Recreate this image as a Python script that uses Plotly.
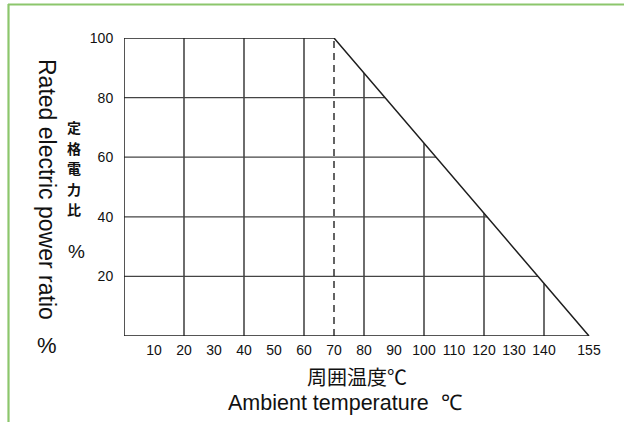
import numpy as np
import plotly.graph_objects as go

# ---- data ----
temps = [0, 70, 155]          # ambient temperature (°C) of derating curve vertices
power = [100, 100, 0]         # rated electric power ratio (%)
knee_temp = 70                # dashed marker
grid_temps = [20, 40, 60, 80, 100, 120, 140]
grid_levels = [20, 40, 60, 80]
x_tick_vals = [10, 20, 30, 40, 50, 60, 70, 80, 90, 100, 110, 120, 130, 140, 155]
x_tick_text = [str(v) for v in x_tick_vals]
y_tick_vals = [20, 40, 60, 80, 100]

W, H = 624, 422
L, R, T, B = 124, 20, 38, 86
PW, PH = W - L - R, H - T - B


def px(x):
    return (x - L) / PW


def py(y):
    return (H - B - y) / PH


slope_t = temps[1:]
slope_p = power[1:]

fig = go.Figure()

# vertical grid lines up to the derating curve
vx, vy = [], []
for t in grid_temps:
    top = float(np.interp(t, temps, power))
    vx += [t, t, None]
    vy += [0, top, None]
fig.add_trace(go.Scatter(x=vx, y=vy, mode="lines",
                         line=dict(color="#2e2e2e", width=1.4),
                         hoverinfo="skip", showlegend=False))

# horizontal grid lines up to the derating curve
hx, hy = [], []
for lv in grid_levels:
    right = float(np.interp(lv, slope_p[::-1], slope_t[::-1]))
    hx += [temps[0], right, None]
    hy += [lv, lv, None]
fig.add_trace(go.Scatter(x=hx, y=hy, mode="lines",
                         line=dict(color="#444444", width=1.3),
                         hoverinfo="skip", showlegend=False))

# dashed knee line
fig.add_trace(go.Scatter(x=[knee_temp, knee_temp], y=[0, float(np.interp(knee_temp, temps, power))],
                         mode="lines", line=dict(color="#222222", width=1.4, dash="7px,5px"),
                         hoverinfo="skip", showlegend=False))

# left axis and bottom axis lines
fig.add_trace(go.Scatter(x=[temps[0], temps[0], temps[-1]], y=[power[0], 0, 0], mode="lines",
                         line=dict(color="#1e1e1e", width=1.5),
                         hoverinfo="skip", showlegend=False))

# derating curve
fig.add_trace(go.Scatter(x=temps, y=power, mode="lines",
                         line=dict(color="#1e1e1e", width=1.5),
                         hoverinfo="skip", showlegend=False))

fig.update_xaxes(range=[0, PW / 3.0], tickvals=x_tick_vals, ticktext=x_tick_text,
                 showgrid=False, zeroline=False, showline=False,
                 ticks="outside", ticklen=1, tickcolor="rgba(0,0,0,0)",
                 tickfont=dict(family="Liberation Sans, Arial, sans-serif", size=14, color="#111111"))
fig.update_yaxes(range=[0, 100], tickvals=y_tick_vals,
                 showgrid=False, zeroline=False, showline=False,
                 ticks="outside", ticklen=7, tickcolor="rgba(0,0,0,0)",
                 tickfont=dict(family="Liberation Sans, Arial, sans-serif", size=14, color="#111111"))

en = "Liberation Sans, Arial, sans-serif"
jp = dict(family="Noto Sans CJK JP", size=14, color="#111111")
ann = []
for ch, yy in zip("定格電力比", [127, 147.5, 168, 188.5, 209]):
    ann.append(dict(text="<b>" + ch + "</b>", x=px(74), y=py(yy), font=jp))
ann += [
    dict(text="%", x=px(76), y=py(251), font=dict(family=en, size=19, color="#111111")),
    dict(text="Rated electric power ratio", x=px(47), y=py(189), textangle=90,
         font=dict(family=en, size=23, color="#111111")),
    dict(text="%", x=px(47), y=py(345), font=dict(family=en, size=22, color="#111111")),
    dict(text="周囲温度℃", x=px(357), y=py(376),
         font=dict(family="Noto Sans CJK JP", size=20, color="#111111")),
    dict(text="Ambient temperature  ℃", x=px(345), y=py(403),
         font=dict(family=en, size=21.5, color="#111111")),
]
for a in ann:
    a.update(xref="paper", yref="paper", showarrow=False, xanchor="center", yanchor="middle")

shapes = [
    dict(type="line", xref="paper", yref="paper", x0=px(8), x1=px(W + 10), y0=py(4.5), y1=py(4.5),
         line=dict(color="#8cc66c", width=2.2)),
    dict(type="line", xref="paper", yref="paper", x0=px(8.5), x1=px(8.5), y0=py(4), y1=py(H + 10),
         line=dict(color="#8cc66c", width=2.2)),
]

fig.update_layout(width=W, height=H, margin=dict(l=L, r=R, t=T, b=B),
                  paper_bgcolor="white", plot_bgcolor="white",
                  annotations=ann, shapes=shapes, showlegend=False)

fig.write_html("out.html", config={"displayModeBar": False},
               post_script="document.body.style.margin='0';document.body.style.overflow='hidden';")
